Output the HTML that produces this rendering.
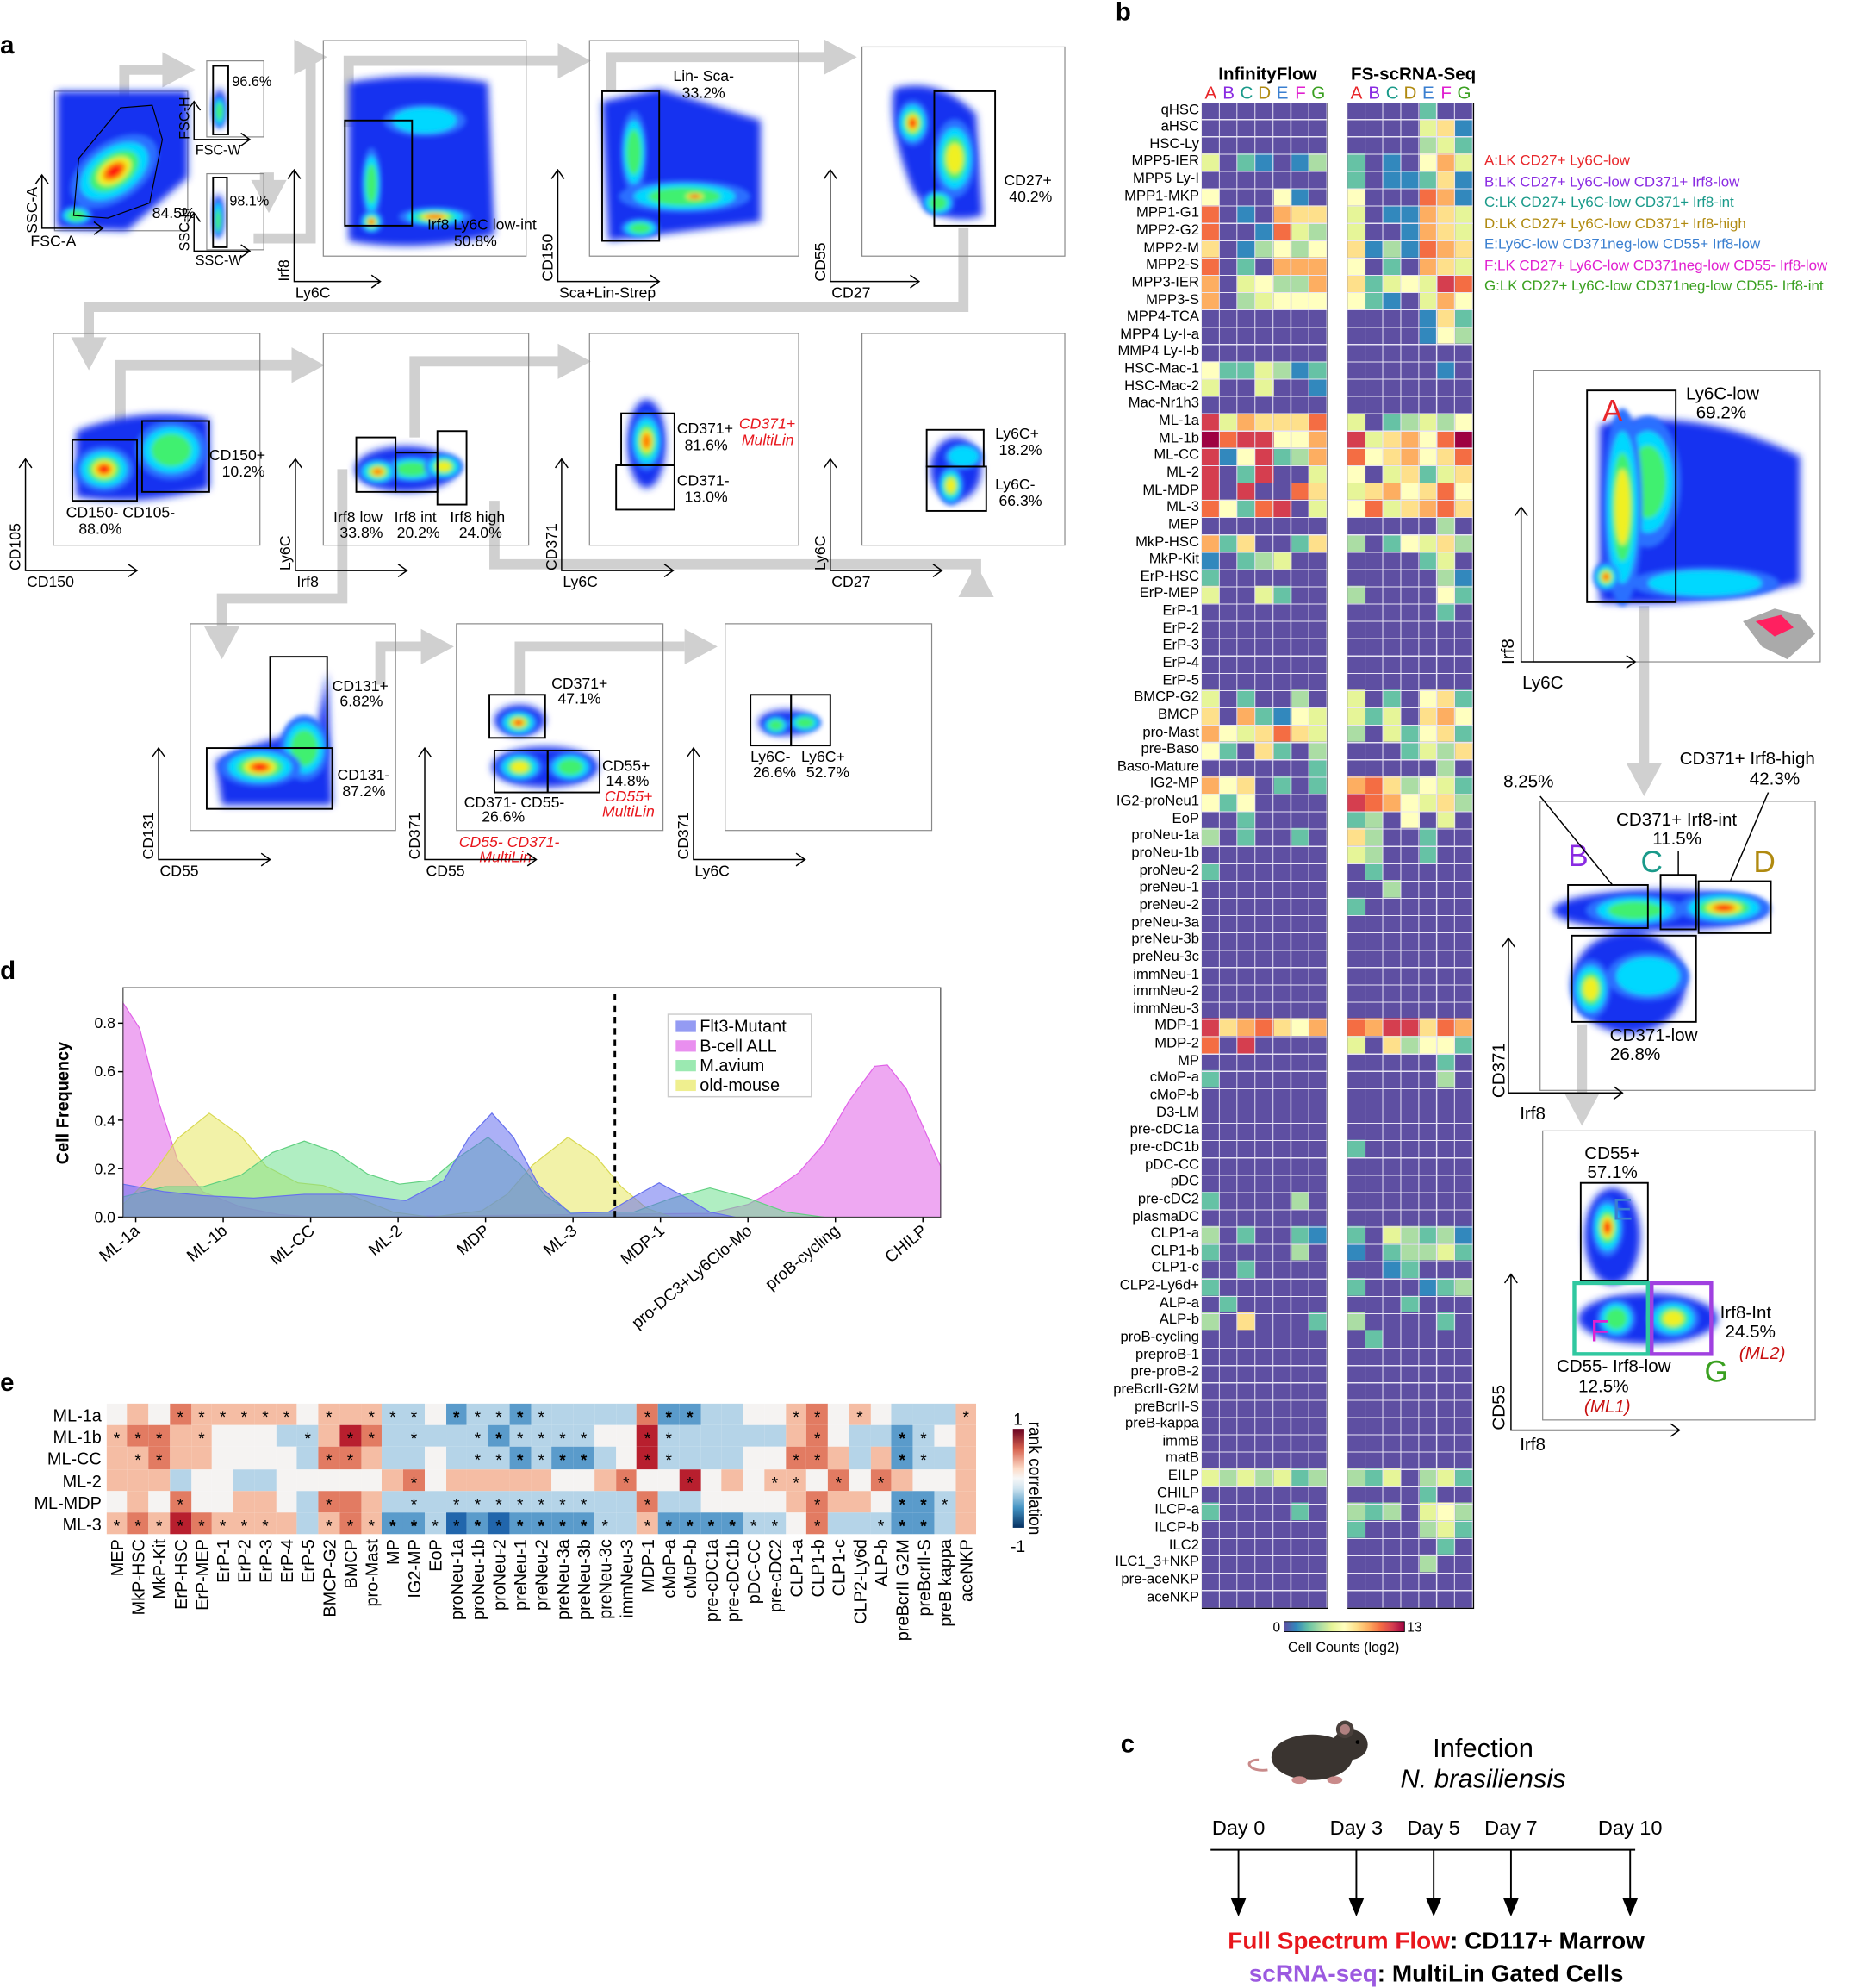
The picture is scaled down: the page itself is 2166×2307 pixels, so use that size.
<!DOCTYPE html>
<html><head><meta charset="utf-8">
<style>
html,body{margin:0;padding:0;background:#fff;}
svg{display:block;font-family:"Liberation Sans",Arial,sans-serif;}
.b{font-weight:bold}
.ax{fill:none;stroke:#000;stroke-width:1}
.fr{fill:none;stroke:#888;stroke-width:.8}
.g{fill:none;stroke:#000;stroke-width:1.3}
.d0{fill:#1530f0}.s1{fill:#2a70ff}.s2{fill:#00d8ff}.s3{fill:#40f070}.s4{fill:#f0f020}.s5{fill:#ff8000}.s6{fill:#ff1010}
.f12{font-size:12px}
.hm{background:#5e4fa2;position:relative;width:99.05px;height:1187.5px;outline:1.6px solid #000;}
.hm p{margin:0;height:13.65px;display:flex}
.hm i{width:14.15px;height:13.65px;flex:none;display:block}
.hm:after{content:"";position:absolute;left:0;top:0;right:0;bottom:0;background:repeating-linear-gradient(90deg,transparent 0 13.4px,#e8e4f4 13.4px 14.15px),repeating-linear-gradient(180deg,transparent 0 12.9px,#e8e4f4 12.9px 13.65px);}
.hm .a{background:#3288bd}.hm .b{background:#66c2a5}.hm .c{background:#abdda4}.hm .d{background:#e6f598}.hm .e{background:#ffffbf}.hm .f{background:#fee08b}.hm .g{background:#fdae61}.hm .h{background:#f46d43}.hm .i{background:#d53e4f}.hm .j{background:#9e0142}
.rl{font:11.3px "Liberation Sans",sans-serif;text-align:right;width:96px}
.rl div{height:13.65px;line-height:13.65px;white-space:nowrap}
.pe{display:grid;grid-template-columns:repeat(41,16.75px);grid-auto-rows:17.2px;font:13px "Liberation Sans",sans-serif}
.pe i{display:block;font-style:normal;text-align:center;line-height:22px}
.pe .a{background:#2166ac}.pe .b{background:#5a9bcb}.pe .c{background:#b5d4e8}.pe .d{background:#f5f3f2}.pe .e{background:#f5bda4}.pe .f{background:#e27b62}.pe .g{background:#b81f2e}
</style></head>
<body>
<svg xmlns="http://www.w3.org/2000/svg" width="2166" height="2307" viewBox="0 0 1472 1568">
<defs>
<filter id="bl" x="-30%" y="-30%" width="160%" height="160%"><feGaussianBlur stdDeviation="3"/></filter>
<filter id="bl2" x="-30%" y="-30%" width="160%" height="160%"><feGaussianBlur stdDeviation="1.8"/></filter>
<linearGradient id="spec" x1="0" x2="1" y1="0" y2="0">
<stop offset="0" stop-color="#5e4fa2"/><stop offset=".1" stop-color="#3288bd"/><stop offset=".2" stop-color="#66c2a5"/><stop offset=".3" stop-color="#abdda4"/><stop offset=".4" stop-color="#e6f598"/><stop offset=".5" stop-color="#ffffbf"/><stop offset=".6" stop-color="#fee08b"/><stop offset=".7" stop-color="#fdae61"/><stop offset=".8" stop-color="#f46d43"/><stop offset=".9" stop-color="#d53e4f"/><stop offset="1" stop-color="#9e0142"/>
</linearGradient>
<linearGradient id="rdbu" x1="0" x2="0" y1="0" y2="1">
<stop offset="0" stop-color="#67001f"/><stop offset=".2" stop-color="#d6604d"/><stop offset=".4" stop-color="#fddbc7"/><stop offset=".5" stop-color="#f7f7f7"/><stop offset=".6" stop-color="#d1e5f0"/><stop offset=".8" stop-color="#4393c3"/><stop offset="1" stop-color="#053061"/>
</linearGradient>
</defs>
<rect width="1472" height="1568" fill="#fff"/>

<!-- gray arrows -->
<g fill="none" stroke="#d0d0d0" stroke-width="8">
<polyline points="98,110 98,55 130,55"/>
<polyline points="205,140 212,140 212,148"/>
<polyline points="200,188 245,188 245,45 235,45"/>
<polyline points="275,100 275,48 440,48"/>
<polyline points="482,72 482,45 650,45"/>
<polyline points="760,180 760,242 70,242 70,268"/>
<polyline points="95,345 95,288 232,288"/>
<polyline points="327,345 327,285 440,285"/>
<polyline points="390,395 390,445 770,445 770,470"/>
<polyline points="270,370 270,472 175,472 175,496"/>
<polyline points="300,540 300,510 335,510"/>
<polyline points="410,548 410,510 540,510"/>
<polyline points="1297,478 1297,605"/>
<polyline points="1248,808 1248,866"/>
</g>
<g fill="#d0d0d0">
<polygon points="154,55 128,41 128,69"/>
<polygon points="212,168 198,142 226,142"/>
<polygon points="258,45 232,31 232,59"/>
<polygon points="466,48 440,34 440,62"/>
<polygon points="676,45 650,31 650,59"/>
<polygon points="70,292 56,266 84,266"/>
<polygon points="256,288 230,274 230,302"/>
<polygon points="466,285 440,271 440,299"/>
<polygon points="770,445 756,471 784,471"/>
<polygon points="175,520 161,494 189,494"/>
<polygon points="358,510 332,496 332,524"/>
<polygon points="566,510 540,496 540,524"/>
<polygon points="1297,628 1283,602 1311,602"/>
<polygon points="1248,888 1234,862 1262,862"/>
</g>

<!-- ============ FLOW PLOTS ============ -->
<!-- P1 -->
<rect class="fr" x="43" y="72" width="105" height="110"/>
<g filter="url(#bl)"><path class="d0" d="M45,180 L45,72 L148,72 L148,140 L100,182 Z"/></g>
<g filter="url(#bl2)">
<g transform="rotate(-35 90 135)"><ellipse class="s1" cx="90" cy="135" rx="39" ry="23"/><ellipse class="s2" cx="90" cy="135" rx="30" ry="18"/><ellipse class="s3" cx="90" cy="135" rx="21.6" ry="13"/><ellipse class="s4" cx="90" cy="135" rx="15" ry="9"/><ellipse class="s5" cx="90" cy="135" rx="10" ry="6"/><ellipse class="s6" cx="90" cy="135" rx="6" ry="3.6"/></g>
<ellipse class="s1" cx="60" cy="170" rx="13" ry="7.8"/><ellipse class="s2" cx="60" cy="170" rx="10" ry="6"/><ellipse class="s3" cx="60" cy="170" rx="7" ry="4.3"/>
</g>
<path d="M58,170 L62,125 L95,85 L120,83 L128,110 L118,160 L85,172 Z" fill="none" stroke="#000" stroke-width=".8"/>
<text class="f12" x="120" y="172">84.5%</text>
<path class="ax" d="M33,138V180H81M28,145L33,138L38,145M74,175L81,180L74,185"/>
<text class="f12" x="24" y="194">FSC-A</text><text class="f12" transform="translate(29,184) rotate(-90)">SSC-A</text>
<!-- P2 -->
<rect class="fr" x="163" y="48" width="45" height="60"/>
<g filter="url(#bl)"><ellipse class="d0" cx="173" cy="85" rx="5" ry="15"/></g>
<g filter="url(#bl2)"><ellipse class="s1" cx="173" cy="88" rx="5.2" ry="13"/><ellipse class="s2" cx="173" cy="88" rx="4" ry="10"/><ellipse class="s3" cx="173" cy="88" rx="2.9" ry="7.2"/></g>
<rect class="g" x="168" y="52" width="12" height="54" stroke-width="1"/>
<text x="183" y="68" font-size="11">96.6%</text>
<path class="ax" d="M153,80V110H197M148,87L153,80L158,87M190,105L197,110L190,115"/>
<text x="154" y="122" font-size="11">FSC-W</text><text font-size="11" transform="translate(149,110) rotate(-90)">FSC-H</text>
<!-- P3 -->
<rect class="fr" x="163" y="137" width="45" height="60"/>
<g filter="url(#bl)"><ellipse class="d0" cx="172" cy="170" rx="4" ry="17"/></g>
<g filter="url(#bl2)"><ellipse class="s1" cx="172" cy="172" rx="3.9" ry="15.6"/><ellipse class="s2" cx="172" cy="172" rx="3" ry="12"/><ellipse class="s3" cx="172" cy="174" rx="2.2" ry="8.6"/></g>
<rect class="g" x="168" y="140" width="11" height="55" stroke-width="1"/>
<text x="181" y="162" font-size="11">98.1%</text>
<path class="ax" d="M153,168V198H197M148,175L153,168L158,175M190,193L197,198L190,203"/>
<text x="154" y="209" font-size="11">SSC-W</text><text font-size="11" transform="translate(149,198) rotate(-90)">SSC-H</text>
<!-- P4 -->
<rect class="fr" x="255" y="32" width="160" height="170"/>
<g filter="url(#bl)"><path class="d0" d="M275,65 Q330,55 385,65 L390,185 Q330,200 275,190 Z"/></g>
<g filter="url(#bl2)">
<ellipse class="s1" cx="335" cy="95" rx="32.5" ry="13"/><ellipse class="s2" cx="335" cy="95" rx="25" ry="10"/>
<ellipse class="s1" cx="293" cy="145" rx="7.8" ry="28.6"/><ellipse class="s2" cx="293" cy="145" rx="6" ry="22"/><ellipse class="s3" cx="293" cy="145" rx="4.3" ry="15.8"/>
<ellipse class="s1" cx="343" cy="171" rx="28.6" ry="7.8"/><ellipse class="s2" cx="343" cy="171" rx="22" ry="6"/><ellipse class="s3" cx="343" cy="171" rx="15.8" ry="4.3"/><ellipse class="s4" cx="343" cy="171" rx="11" ry="3"/><ellipse class="s5" cx="343" cy="171" rx="7.3" ry="2"/>
<circle class="s1" cx="293" cy="175" r="9.1"/><circle class="s2" cx="293" cy="175" r="7"/><circle class="s3" cx="293" cy="175" r="5"/><circle class="s4" cx="293" cy="175" r="3.5"/><circle class="s5" cx="293" cy="175" r="2.3"/><circle class="s6" cx="293" cy="175" r="1.4"/>
</g>
<rect class="g" x="272" y="95" width="53" height="83"/>
<text class="f12" x="337" y="181">Irf8 Ly6C low-int</text><text class="f12" x="375" y="194" text-anchor="middle">50.8%</text>
<path class="ax" d="M232,134V222H300M227,141L232,134L237,141M293,217L300,222L293,227"/>
<text class="f12" x="233" y="235">Ly6C</text><text class="f12" transform="translate(228,222) rotate(-90)">Irf8</text>
<!-- P5 -->
<rect class="fr" x="465" y="32" width="165" height="170"/>
<g filter="url(#bl)"><path class="d0" d="M475,80 L520,70 L600,95 L600,175 L480,190 Z"/></g>
<g filter="url(#bl2)">
<ellipse class="s1" cx="500" cy="120" rx="10.4" ry="32.5"/><ellipse class="s2" cx="500" cy="120" rx="8" ry="25"/><ellipse class="s3" cx="500" cy="120" rx="5.8" ry="18"/>
<ellipse class="s1" cx="540" cy="155" rx="52" ry="13"/><ellipse class="s2" cx="540" cy="155" rx="40" ry="10"/><ellipse class="s3" cx="540" cy="155" rx="28.8" ry="7.2"/>
<ellipse class="s4" cx="548" cy="155" rx="7" ry="2.5"/><ellipse class="s5" cx="548" cy="155" rx="4.6" ry="1.7"/><ellipse class="s6" cx="548" cy="155" rx="2.8" ry="1"/>
<ellipse class="s1" cx="505" cy="180" rx="15.6" ry="7.8"/><ellipse class="s2" cx="505" cy="180" rx="12" ry="6"/><ellipse class="s3" cx="505" cy="180" rx="8.6" ry="4.3"/>
</g>
<rect class="g" x="475" y="72" width="45" height="118"/>
<text class="f12" x="555" y="64" text-anchor="middle">Lin- Sca-</text><text class="f12" x="555" y="77" text-anchor="middle">33.2%</text>
<path class="ax" d="M440,134V222H520M435,141L440,134L445,141M513,217L520,222L513,227"/>
<text class="f12" x="441" y="235">Sca+Lin-Strep</text><text class="f12" transform="translate(436,222) rotate(-90)">CD150</text>
<!-- P6 -->
<rect class="fr" x="680" y="37" width="160" height="165"/>
<g filter="url(#bl)"><path class="d0" d="M705,70 Q740,60 770,90 L775,170 Q740,180 720,150 Q700,100 705,70Z"/></g>
<g filter="url(#bl2)">
<ellipse class="s1" cx="753" cy="125" rx="16.9" ry="31.2"/><ellipse class="s2" cx="753" cy="125" rx="13" ry="24"/><ellipse class="s3" cx="753" cy="125" rx="9.4" ry="17.3"/><ellipse class="s4" cx="753" cy="125" rx="6.5" ry="12"/>
<ellipse class="s1" cx="740" cy="160" rx="13" ry="10.4"/><ellipse class="s2" cx="740" cy="160" rx="10" ry="8"/><ellipse class="s3" cx="740" cy="160" rx="7.2" ry="5.8"/>
<ellipse class="s1" cx="720" cy="97" rx="13" ry="18.2"/><ellipse class="s2" cx="720" cy="97" rx="10" ry="14"/><ellipse class="s3" cx="720" cy="97" rx="7.2" ry="10"/><ellipse class="s4" cx="720" cy="97" rx="5" ry="7"/><ellipse class="s5" cx="720" cy="97" rx="3.3" ry="4.6"/><ellipse class="s6" cx="720" cy="97" rx="2" ry="2.8"/>
</g>
<rect class="g" x="737" y="72" width="48" height="106"/>
<text class="f12" x="792" y="146">CD27+</text><text class="f12" x="796" y="159">40.2%</text>
<path class="ax" d="M655,134V222H725M650,141L655,134L660,141M718,217L725,222L718,227"/>
<text class="f12" x="656" y="235">CD27</text><text class="f12" transform="translate(651,222) rotate(-90)">CD55</text>

<!-- P7 -->
<rect class="fr" x="42" y="263" width="163" height="167"/>
<g filter="url(#bl)"><path class="d0" d="M60,340 Q110,320 165,330 L165,385 Q110,400 60,392Z"/></g>
<g filter="url(#bl2)">
<ellipse class="s1" cx="135" cy="355" rx="28.6" ry="23.4"/><ellipse class="s2" cx="135" cy="355" rx="22" ry="18"/><ellipse class="s3" cx="135" cy="355" rx="15.8" ry="13"/>
<ellipse class="s1" cx="82" cy="370" rx="23.4" ry="18.2"/><ellipse class="s2" cx="82" cy="370" rx="18" ry="14"/><ellipse class="s3" cx="82" cy="370" rx="13" ry="10"/><ellipse class="s4" cx="82" cy="370" rx="9" ry="7"/><ellipse class="s5" cx="82" cy="370" rx="6" ry="4.6"/><ellipse class="s6" cx="82" cy="370" rx="3.6" ry="2.8"/>
</g>
<rect class="g" x="57" y="347" width="51" height="48"/><rect class="g" x="112" y="332" width="53" height="56"/>
<text class="f12" x="165" y="363">CD150+</text><text class="f12" x="175" y="376">10.2%</text>
<text class="f12" x="52" y="408">CD150- CD105-</text><text class="f12" x="62" y="421">88.0%</text>
<path class="ax" d="M20,362V450H108M15,369L20,362L25,369M101,445L108,450L101,455"/>
<text class="f12" x="21" y="463">CD150</text><text class="f12" transform="translate(16,450) rotate(-90)">CD105</text>
<!-- P8 -->
<rect class="fr" x="255" y="263" width="162" height="167"/>
<g filter="url(#bl)"><ellipse class="d0" cx="320" cy="370" rx="40" ry="18"/></g>
<g filter="url(#bl2)">
<ellipse class="s1" cx="325" cy="370" rx="23.4" ry="10.4"/><ellipse class="s2" cx="325" cy="370" rx="18" ry="8"/><ellipse class="s3" cx="325" cy="370" rx="13" ry="5.8"/>
<ellipse class="s1" cx="350" cy="368" rx="15.6" ry="10.4"/><ellipse class="s2" cx="350" cy="368" rx="12" ry="8"/><ellipse class="s3" cx="350" cy="368" rx="8.6" ry="5.8"/><ellipse class="s4" cx="350" cy="368" rx="6" ry="4"/>
<ellipse class="s1" cx="298" cy="372" rx="15.6" ry="10.4"/><ellipse class="s2" cx="298" cy="372" rx="12" ry="8"/><ellipse class="s3" cx="298" cy="372" rx="8.6" ry="5.8"/><ellipse class="s4" cx="298" cy="372" rx="6" ry="4"/><ellipse class="s5" cx="298" cy="372" rx="4" ry="2.6"/>
</g>
<rect class="g" x="281" y="345" width="31" height="43"/><rect class="g" x="312" y="357" width="33" height="31"/><rect class="g" x="345" y="340" width="23" height="58"/>
<text class="f12" x="263" y="412">Irf8 low</text><text class="f12" x="268" y="424">33.8%</text>
<text class="f12" x="311" y="412">Irf8 int</text><text class="f12" x="313" y="424">20.2%</text>
<text class="f12" x="355" y="412">Irf8 high</text><text class="f12" x="362" y="424">24.0%</text>
<path class="ax" d="M233,362V450H321M228,369L233,362L238,369M314,445L321,450L314,455"/>
<text class="f12" x="234" y="463">Irf8</text><text class="f12" transform="translate(229,450) rotate(-90)">Ly6C</text>
<!-- P9 -->
<rect class="fr" x="465" y="263" width="165" height="167"/>
<g filter="url(#bl)"><ellipse class="d0" cx="510" cy="350" rx="15" ry="35"/></g>
<g filter="url(#bl2)"><ellipse class="s1" cx="510" cy="348" rx="13" ry="23.4"/><ellipse class="s2" cx="510" cy="348" rx="10" ry="18"/><ellipse class="s3" cx="510" cy="348" rx="7.2" ry="13"/><ellipse class="s4" cx="510" cy="348" rx="5" ry="9"/><ellipse class="s5" cx="510" cy="348" rx="3.3" ry="6"/></g>
<rect class="g" x="490" y="326" width="42" height="41"/><rect class="g" x="486" y="367" width="46" height="35"/>
<text class="f12" x="534" y="342">CD371+</text><text class="f12" x="540" y="355">81.6%</text>
<text class="f12" x="583" y="338" fill="#e8161c" font-style="italic">CD371+</text><text class="f12" x="585" y="351" fill="#e8161c" font-style="italic">MultiLin</text>
<text class="f12" x="534" y="383">CD371-</text><text class="f12" x="540" y="396">13.0%</text>
<path class="ax" d="M443,362V450H531M438,369L443,362L448,369M524,445L531,450L524,455"/>
<text class="f12" x="444" y="463">Ly6C</text><text class="f12" transform="translate(439,450) rotate(-90)">CD371</text>
<!-- P10 -->
<rect class="fr" x="680" y="263" width="160" height="167"/>
<g filter="url(#bl)"><ellipse class="d0" cx="754" cy="370" rx="20" ry="25"/></g>
<g filter="url(#bl2)">
<ellipse class="s1" cx="760" cy="360" rx="15.6" ry="10.4"/><ellipse class="s2" cx="760" cy="360" rx="12" ry="8"/>
<ellipse class="s1" cx="750" cy="383" rx="10.4" ry="15.6"/><ellipse class="s2" cx="750" cy="383" rx="8" ry="12"/><ellipse class="s3" cx="750" cy="383" rx="5.8" ry="8.6"/><ellipse class="s4" cx="750" cy="383" rx="4" ry="6"/>
</g>
<rect class="g" x="731" y="339" width="45" height="29"/><rect class="g" x="731" y="368" width="47" height="35"/>
<text class="f12" x="785" y="346">Ly6C+</text><text class="f12" x="788" y="359">18.2%</text>
<text class="f12" x="785" y="386">Ly6C-</text><text class="f12" x="788" y="399">66.3%</text>
<path class="ax" d="M655,362V450H743M650,369L655,362L660,369M736,445L743,450L736,455"/>
<text class="f12" x="656" y="463">CD27</text><text class="f12" transform="translate(651,450) rotate(-90)">Ly6C</text>

<!-- P11 -->
<rect class="fr" x="150" y="492" width="162" height="163"/>
<g filter="url(#bl)"><path class="d0" d="M170,600 Q200,585 250,575 L258,530 L262,635 L175,635 Z"/></g>
<g filter="url(#bl2)">
<ellipse class="s1" cx="240" cy="590" rx="19.5" ry="26"/><ellipse class="s2" cx="240" cy="590" rx="15" ry="20"/><ellipse class="s3" cx="240" cy="590" rx="10.8" ry="14.4"/>
<ellipse class="s1" cx="205" cy="605" rx="32.5" ry="15.6"/><ellipse class="s2" cx="205" cy="605" rx="25" ry="12"/><ellipse class="s3" cx="205" cy="605" rx="18" ry="8.6"/><ellipse class="s4" cx="205" cy="605" rx="12.5" ry="6"/><ellipse class="s5" cx="205" cy="605" rx="8.3" ry="4"/><ellipse class="s6" cx="205" cy="605" rx="5" ry="2.4"/>
</g>
<rect class="g" x="213" y="518" width="45" height="72"/><rect class="g" x="163" y="590" width="99" height="48"/>
<text class="f12" x="262" y="545">CD131+</text><text class="f12" x="268" y="557">6.82%</text>
<text class="f12" x="266" y="615">CD131-</text><text class="f12" x="270" y="628">87.2%</text>
<path class="ax" d="M125,590V678H213M120,597L125,590L130,597M206,673L213,678L206,683"/>
<text class="f12" x="126" y="691">CD55</text><text class="f12" transform="translate(121,678) rotate(-90)">CD131</text>
<!-- P12 -->
<rect class="fr" x="360" y="492" width="163" height="163"/>
<g filter="url(#bl)"><ellipse class="d0" cx="410" cy="568" rx="20" ry="12"/><ellipse class="d0" cx="430" cy="605" rx="42" ry="16"/></g>
<g filter="url(#bl2)">
<ellipse class="s1" cx="450" cy="605" rx="18.2" ry="11.7"/><ellipse class="s2" cx="450" cy="605" rx="14" ry="9"/><ellipse class="s3" cx="450" cy="605" rx="10" ry="6.5"/>
<ellipse class="s1" cx="410" cy="605" rx="18.2" ry="11.7"/><ellipse class="s2" cx="410" cy="605" rx="14" ry="9"/><ellipse class="s3" cx="410" cy="605" rx="10" ry="6.5"/><ellipse class="s4" cx="410" cy="605" rx="7" ry="4.5"/>
<ellipse class="s1" cx="409" cy="570" rx="15.6" ry="10.4"/><ellipse class="s2" cx="409" cy="570" rx="12" ry="8"/><ellipse class="s3" cx="409" cy="570" rx="8.6" ry="5.8"/><ellipse class="s4" cx="409" cy="570" rx="6" ry="4"/><ellipse class="s5" cx="409" cy="570" rx="4" ry="2.6"/><ellipse class="s6" cx="409" cy="570" rx="2.4" ry="1.6"/>
</g>
<rect class="g" x="386" y="548" width="44" height="34"/><rect class="g" x="390" y="592" width="42" height="33"/><rect class="g" x="432" y="592" width="41" height="33"/>
<text class="f12" x="435" y="543">CD371+</text><text class="f12" x="440" y="555">47.1%</text>
<text class="f12" x="475" y="608">CD55+</text><text class="f12" x="478" y="620">14.8%</text>
<text class="f12" x="477" y="632" fill="#e8161c" font-style="italic">CD55+</text><text class="f12" x="475" y="644" fill="#e8161c" font-style="italic">MultiLin</text>
<text class="f12" x="366" y="637">CD371- CD55-</text><text class="f12" x="380" y="648">26.6%</text>
<text class="f12" x="362" y="668" fill="#e8161c" font-style="italic">CD55- CD371-</text><text class="f12" x="378" y="680" fill="#e8161c" font-style="italic">MultiLin</text>
<path class="ax" d="M335,590V678H423M330,597L335,590L340,597M416,673L423,678L416,683"/>
<text class="f12" x="336" y="691">CD55</text><text class="f12" transform="translate(331,678) rotate(-90)">CD371</text>
<!-- P13 -->
<rect class="fr" x="572" y="492" width="163" height="163"/>
<g filter="url(#bl)"><ellipse class="d0" cx="620" cy="570" rx="22" ry="10"/></g>
<g filter="url(#bl2)">
<ellipse class="s1" cx="612" cy="572" rx="10.4" ry="7.8"/><ellipse class="s2" cx="612" cy="572" rx="8" ry="6"/><ellipse class="s3" cx="612" cy="572" rx="5.8" ry="4.3"/>
<ellipse class="s1" cx="635" cy="570" rx="13" ry="7.8"/><ellipse class="s2" cx="635" cy="570" rx="10" ry="6"/><ellipse class="s3" cx="635" cy="570" rx="7.2" ry="4.3"/>
</g>
<rect class="g" x="592" y="548" width="32" height="40"/><rect class="g" x="624" y="548" width="31" height="40"/>
<text class="f12" x="592" y="601">Ly6C-</text><text class="f12" x="594" y="613">26.6%</text>
<text class="f12" x="632" y="601">Ly6C+</text><text class="f12" x="636" y="613">52.7%</text>
<path class="ax" d="M547,590V678H635M542,597L547,590L552,597M628,673L635,678L628,683"/>
<text class="f12" x="548" y="691">Ly6C</text><text class="f12" transform="translate(543,678) rotate(-90)">CD371</text>

<!-- R1 -->
<rect class="fr" x="1210" y="292" width="226" height="230"/>
<g filter="url(#bl)"><path class="d0" d="M1262,335 Q1340,320 1420,360 L1420,460 Q1340,480 1262,475 Z"/></g>
<g filter="url(#bl2)">
<ellipse class="s1" cx="1345" cy="460" rx="58.5" ry="13"/><ellipse class="s2" cx="1345" cy="460" rx="45" ry="10"/>
<ellipse class="s1" cx="1300" cy="380" rx="26" ry="52"/><ellipse class="s2" cx="1300" cy="380" rx="20" ry="40"/><ellipse class="s3" cx="1300" cy="380" rx="14.4" ry="28.8"/>
<ellipse class="s1" cx="1280" cy="400" rx="15.6" ry="78"/><ellipse class="s2" cx="1280" cy="400" rx="12" ry="60"/><ellipse class="s3" cx="1280" cy="400" rx="8.6" ry="43"/><ellipse class="s4" cx="1280" cy="400" rx="6" ry="30"/>
<ellipse class="s1" cx="1267" cy="455" rx="10.4" ry="11.7"/><ellipse class="s2" cx="1267" cy="455" rx="8" ry="9"/><ellipse class="s3" cx="1267" cy="455" rx="5.8" ry="6.5"/><ellipse class="s4" cx="1267" cy="455" rx="4" ry="4.5"/><ellipse class="s5" cx="1267" cy="455" rx="2.6" ry="3"/><ellipse class="s6" cx="1267" cy="455" rx="1.6" ry="1.8"/>
</g>
<path d="M1375,490 L1400,480 L1420,485 L1432,500 L1410,520 L1390,510Z" fill="#aaa"/>
<path d="M1385,490 L1405,485 L1415,495 L1400,502Z" fill="#ff2060"/>
<rect class="g" x="1252" y="308" width="70" height="167"/>
<text x="1272" y="332" font-size="24" fill="#e8262a" text-anchor="middle">A</text>
<text x="1330" y="315" font-size="14">Ly6C-low</text><text x="1338" y="330" font-size="14">69.2%</text>
<path class="ax" d="M1200,400V522H1290M1195,407L1200,400L1205,407M1283,517L1290,522L1283,527"/>
<text x="1201" y="543" font-size="14">Ly6C</text><text font-size="14" transform="translate(1194,524) rotate(-90)">Irf8</text>
<!-- R2 -->
<rect class="fr" x="1215" y="632" width="217" height="228"/>
<g filter="url(#bl)"><ellipse class="d0" cx="1310" cy="718" rx="85" ry="16"/><ellipse class="d0" cx="1285" cy="775" rx="45" ry="40"/></g>
<g filter="url(#bl2)">
<ellipse class="s1" cx="1300" cy="770" rx="32.5" ry="19.5"/><ellipse class="s2" cx="1300" cy="770" rx="25" ry="15"/>
<ellipse class="s1" cx="1255" cy="780" rx="15.6" ry="23.4"/><ellipse class="s2" cx="1255" cy="780" rx="12" ry="18"/><ellipse class="s3" cx="1255" cy="780" rx="8.6" ry="13"/><ellipse class="s4" cx="1255" cy="780" rx="6" ry="9"/>
<ellipse class="s1" cx="1290" cy="718" rx="39" ry="13"/><ellipse class="s2" cx="1290" cy="718" rx="30" ry="10"/><ellipse class="s3" cx="1290" cy="718" rx="21.6" ry="7.2"/>
<ellipse class="s1" cx="1360" cy="716" rx="36.4" ry="13"/><ellipse class="s2" cx="1360" cy="716" rx="28" ry="10"/><ellipse class="s3" cx="1360" cy="716" rx="20" ry="7.2"/><ellipse class="s4" cx="1360" cy="716" rx="14" ry="5"/><ellipse class="s5" cx="1360" cy="716" rx="9.2" ry="3.3"/><ellipse class="s6" cx="1360" cy="716" rx="5.6" ry="2"/>
</g>
<rect class="g" x="1237" y="698" width="63" height="34"/><rect class="g" x="1310" y="690" width="28" height="43"/><rect class="g" x="1340" y="695" width="57" height="41"/><rect class="g" x="1240" y="738" width="98" height="68"/>
<text x="1245" y="683" font-size="24" fill="#8a2be2" text-anchor="middle">B</text>
<text x="1303" y="688" font-size="24" fill="#1a9a8a" text-anchor="middle">C</text>
<text x="1392" y="688" font-size="24" fill="#b08a10" text-anchor="middle">D</text>
<text x="1186" y="621" font-size="14">8.25%</text>
<text x="1325" y="603" font-size="14">CD371+ Irf8-high</text><text x="1400" y="619" font-size="14" text-anchor="middle">42.3%</text>
<text x="1275" y="651" font-size="14">CD371+ Irf8-int</text><text x="1323" y="666" font-size="14" text-anchor="middle">11.5%</text>
<line x1="1215" y1="628" x2="1272" y2="698" stroke="#000"/><line x1="1324" y1="671" x2="1324" y2="690" stroke="#000"/><line x1="1395" y1="625" x2="1365" y2="695" stroke="#000"/>
<text x="1270" y="821" font-size="14">CD371-low</text><text x="1290" y="836" font-size="14" text-anchor="middle">26.8%</text>
<path class="ax" d="M1190,740V862H1280M1185,747L1190,740L1195,747M1273,857L1280,862L1273,867"/>
<text x="1199" y="883" font-size="14">Irf8</text><text font-size="14" transform="translate(1187,866) rotate(-90)">CD371</text>
<!-- R3 -->
<rect class="fr" x="1217" y="892" width="215" height="228"/>
<g filter="url(#bl)"><ellipse class="d0" cx="1272" cy="975" rx="22" ry="38"/><ellipse class="d0" cx="1300" cy="1040" rx="55" ry="20"/></g>
<g filter="url(#bl2)">
<ellipse class="s1" cx="1275" cy="1040" rx="15.6" ry="15.6"/><ellipse class="s2" cx="1275" cy="1040" rx="12" ry="12"/><ellipse class="s3" cx="1275" cy="1040" rx="8.6" ry="8.6"/>
<ellipse class="s1" cx="1320" cy="1040" rx="20.8" ry="15.6"/><ellipse class="s2" cx="1320" cy="1040" rx="16" ry="12"/><ellipse class="s3" cx="1320" cy="1040" rx="11.5" ry="8.6"/><ellipse class="s4" cx="1320" cy="1040" rx="8" ry="6"/>
<ellipse class="s1" cx="1268" cy="968" rx="13" ry="23.4"/><ellipse class="s2" cx="1268" cy="968" rx="10" ry="18"/><ellipse class="s3" cx="1268" cy="968" rx="7.2" ry="13"/><ellipse class="s4" cx="1268" cy="968" rx="5" ry="9"/><ellipse class="s5" cx="1268" cy="968" rx="3.3" ry="6"/><ellipse class="s6" cx="1268" cy="968" rx="2" ry="3.6"/>
</g>
<rect class="g" x="1247" y="933" width="53" height="77"/>
<rect x="1242" y="1012" width="58" height="56" fill="none" stroke="#30c8a0" stroke-width="3"/>
<rect x="1303" y="1012" width="47" height="56" fill="none" stroke="#a040e0" stroke-width="3"/>
<text x="1280" y="962" font-size="24" fill="#3a7fd0" text-anchor="middle">E</text>
<text x="1262" y="1058" font-size="24" fill="#e020d0" text-anchor="middle">F</text>
<text x="1354" y="1090" font-size="24" fill="#3aa020" text-anchor="middle">G</text>
<text x="1272" y="914" font-size="14" text-anchor="middle">CD55+</text><text x="1272" y="929" font-size="14" text-anchor="middle">57.1%</text>
<text x="1357" y="1040" font-size="14">Irf8-Int</text><text x="1361" y="1055" font-size="14">24.5%</text><text x="1372" y="1072" font-size="14" fill="#c81010" font-style="italic">(ML2)</text>
<text x="1228" y="1082" font-size="14">CD55- Irf8-low</text><text x="1265" y="1098" font-size="14" text-anchor="middle">12.5%</text><text x="1268" y="1114" font-size="14" fill="#c81010" font-style="italic" text-anchor="middle">(ML1)</text>
<path class="ax" d="M1192,1005V1128H1325M1187,1012L1192,1005L1197,1012M1318,1123L1325,1128L1318,1133"/>
<text x="1199" y="1144" font-size="14">Irf8</text><text font-size="14" transform="translate(1187,1128) rotate(-90)">CD55</text>

<!-- panel letters -->
<text x="0" y="42" font-size="20" class="b">a</text>
<text x="880" y="16" font-size="20" class="b">b</text>
<text x="0" y="772" font-size="20" class="b">d</text>
<text x="0" y="1097" font-size="20" class="b">e</text>
<text x="884" y="1382" font-size="20" class="b">c</text>

<!-- ============ PANEL B ============ -->
<text x="1000" y="63" font-size="14" class="b" text-anchor="middle">InfinityFlow</text>
<text x="1115" y="63" font-size="14" class="b" text-anchor="middle">FS-scRNA-Seq</text>
<g font-size="14" text-anchor="middle">
<text x="955.1" y="78" fill="#e8262a">A</text><text x="969.2" y="78" fill="#8a2be2">B</text><text x="983.4" y="78" fill="#1a9a8a">C</text><text x="997.5" y="78" fill="#b08a10">D</text><text x="1011.7" y="78" fill="#3a7fd0">E</text><text x="1025.9" y="78" fill="#e020d0">F</text><text x="1040" y="78" fill="#3aa020">G</text>
<text x="1070.1" y="78" fill="#e8262a">A</text><text x="1084.2" y="78" fill="#8a2be2">B</text><text x="1098.4" y="78" fill="#1a9a8a">C</text><text x="1112.5" y="78" fill="#b08a10">D</text><text x="1126.7" y="78" fill="#3a7fd0">E</text><text x="1140.9" y="78" fill="#e020d0">F</text><text x="1155" y="78" fill="#3aa020">G</text>
</g>
<foreignObject x="850" y="80.5" width="96" height="1190">
<div class="rl"><div>qHSC</div><div>aHSC</div><div>HSC-Ly</div><div>MPP5-IER</div><div>MPP5 Ly-I</div><div>MPP1-MKP</div><div>MPP1-G1</div><div>MPP2-G2</div><div>MPP2-M</div><div>MPP2-S</div><div>MPP3-IER</div><div>MPP3-S</div><div>MPP4-TCA</div><div>MPP4 Ly-I-a</div><div>MMP4 Ly-I-b</div><div>HSC-Mac-1</div><div>HSC-Mac-2</div><div>Mac-Nr1h3</div><div>ML-1a</div><div>ML-1b</div><div>ML-CC</div><div>ML-2</div><div>ML-MDP</div><div>ML-3</div><div>MEP</div><div>MkP-HSC</div><div>MkP-Kit</div><div>ErP-HSC</div><div>ErP-MEP</div><div>ErP-1</div><div>ErP-2</div><div>ErP-3</div><div>ErP-4</div><div>ErP-5</div><div>BMCP-G2</div><div>BMCP</div><div>pro-Mast</div><div>pre-Baso</div><div>Baso-Mature</div><div>IG2-MP</div><div>IG2-proNeu1</div><div>EoP</div><div>proNeu-1a</div><div>proNeu-1b</div><div>proNeu-2</div><div>preNeu-1</div><div>preNeu-2</div><div>preNeu-3a</div><div>preNeu-3b</div><div>preNeu-3c</div><div>immNeu-1</div><div>immNeu-2</div><div>immNeu-3</div><div>MDP-1</div><div>MDP-2</div><div>MP</div><div>cMoP-a</div><div>cMoP-b</div><div>D3-LM</div><div>pre-cDC1a</div><div>pre-cDC1b</div><div>pDC-CC</div><div>pDC</div><div>pre-cDC2</div><div>plasmaDC</div><div>CLP1-a</div><div>CLP1-b</div><div>CLP1-c</div><div>CLP2-Ly6d+</div><div>ALP-a</div><div>ALP-b</div><div>proB-cycling</div><div>preproB-1</div><div>pre-proB-2</div><div>preBcrII-G2M</div><div>preBcrII-S</div><div>preB-kappa</div><div>immB</div><div>matB</div><div>EILP</div><div>CHILP</div><div>ILCP-a</div><div>ILCP-b</div><div>ILC2</div><div>ILC1_3+NKP</div><div>pre-aceNKP</div><div>aceNKP</div></div>
</foreignObject>
<foreignObject x="948" y="80.5" width="100" height="1188">
<div class="hm">
<p></p><p></p><p></p>
<p><i class="d"></i><i></i><i class="b"></i><i class="a"></i><i></i><i class="a"></i><i class="c"></i></p>
<p></p>
<p><i class="e"></i><i></i><i></i><i></i><i class="e"></i><i class="a"></i><i></i></p>
<p><i class="h"></i><i></i><i class="a"></i><i></i><i class="g"></i><i class="f"></i><i class="f"></i></p>
<p><i class="h"></i><i></i><i></i><i class="a"></i><i class="h"></i><i class="d"></i><i class="c"></i></p>
<p><i class="f"></i><i></i><i class="a"></i><i class="c"></i><i class="e"></i><i class="c"></i><i class="e"></i></p>
<p><i class="h"></i><i></i><i class="b"></i><i></i><i class="g"></i><i class="g"></i><i class="g"></i></p>
<p><i class="g"></i><i></i><i class="d"></i><i class="e"></i><i class="c"></i><i class="c"></i><i class="g"></i></p>
<p><i class="g"></i><i></i><i class="c"></i><i class="d"></i><i class="e"></i><i class="e"></i><i class="e"></i></p>
<p></p><p></p><p></p>
<p><i class="e"></i><i class="b"></i><i class="b"></i><i class="d"></i><i class="c"></i><i class="a"></i><i class="b"></i></p>
<p><i class="d"></i><i></i><i></i><i class="d"></i><i></i><i></i><i class="a"></i></p>
<p></p>
<p><i class="i"></i><i class="d"></i><i class="g"></i><i class="f"></i><i class="f"></i><i class="f"></i><i class="h"></i></p>
<p><i class="j"></i><i class="h"></i><i class="i"></i><i class="i"></i><i class="e"></i><i class="e"></i><i class="g"></i></p>
<p><i class="i"></i><i class="a"></i><i class="e"></i><i class="i"></i><i class="b"></i><i class="c"></i><i class="g"></i></p>
<p><i class="i"></i><i></i><i class="b"></i><i class="i"></i><i></i><i></i><i class="d"></i></p>
<p><i class="i"></i><i></i><i class="i"></i><i></i><i></i><i class="h"></i><i class="f"></i></p>
<p><i class="h"></i><i class="e"></i><i class="b"></i><i class="h"></i><i class="i"></i><i></i><i class="d"></i></p>
<p></p>
<p><i class="g"></i><i class="b"></i><i class="f"></i><i></i><i></i><i class="b"></i><i class="f"></i></p>
<p><i class="a"></i><i></i><i class="b"></i><i class="c"></i><i class="d"></i><i></i><i></i></p>
<p><i class="b"></i></p>
<p><i class="d"></i><i></i><i></i><i class="d"></i><i class="b"></i><i></i><i></i></p>
<p></p><p></p><p></p><p></p><p></p>
<p><i class="d"></i><i></i><i class="b"></i><i></i><i></i><i class="c"></i><i></i></p>
<p><i class="f"></i><i></i><i class="g"></i><i class="b"></i><i class="a"></i><i class="e"></i><i class="d"></i></p>
<p><i class="g"></i><i class="e"></i><i class="d"></i><i class="f"></i><i class="h"></i><i class="f"></i><i class="d"></i></p>
<p><i class="e"></i><i class="b"></i><i></i><i class="f"></i><i class="b"></i><i></i><i class="c"></i></p>
<p><i></i><i></i><i></i><i></i><i></i><i></i><i class="b"></i></p>
<p><i class="g"></i><i class="e"></i><i class="f"></i><i></i><i class="b"></i><i></i><i class="b"></i></p>
<p><i class="e"></i><i class="b"></i><i class="e"></i></p>
<p><i></i><i></i><i class="b"></i></p>
<p><i class="c"></i><i></i><i class="b"></i><i></i><i></i><i class="b"></i></p>
<p></p>
<p><i class="b"></i></p>
<p></p><p></p><p></p><p></p><p></p><p></p><p></p><p></p>
<p><i class="i"></i><i class="f"></i><i class="g"></i><i class="h"></i><i class="f"></i><i class="e"></i><i class="g"></i></p>
<p><i class="h"></i><i></i><i class="i"></i></p>
<p></p>
<p><i class="b"></i></p>
<p></p><p></p><p></p><p></p><p></p><p></p>
<p><i class="b"></i><i></i><i></i><i></i><i></i><i class="c"></i></p>
<p></p>
<p><i class="c"></i><i></i><i class="b"></i><i></i><i></i><i class="b"></i><i class="a"></i></p>
<p><i class="b"></i><i></i><i></i><i></i><i></i><i class="c"></i></p>
<p><i></i><i></i><i class="b"></i></p>
<p><i class="b"></i></p>
<p><i></i><i class="b"></i></p>
<p><i class="c"></i><i></i><i class="f"></i><i></i><i></i><i></i><i class="b"></i></p>
<p></p><p></p><p></p><p></p><p></p><p></p><p></p><p></p>
<p><i class="d"></i><i class="c"></i><i class="d"></i><i class="c"></i><i class="d"></i><i class="b"></i><i class="c"></i></p>
<p></p>
<p><i class="b"></i><i></i><i></i><i></i><i></i><i class="b"></i></p>
<p></p><p></p><p></p><p></p><p></p>
</div>
</foreignObject>
<foreignObject x="1063" y="80.5" width="100" height="1188">
<div class="hm">
<p><i></i><i></i><i></i><i></i><i class="b"></i></p>
<p><i></i><i></i><i></i><i></i><i class="d"></i><i class="f"></i><i class="a"></i></p>
<p><i></i><i></i><i></i><i></i><i class="c"></i><i class="d"></i><i class="b"></i></p>
<p><i class="b"></i><i></i><i class="a"></i><i></i><i class="e"></i><i class="g"></i><i class="d"></i></p>
<p><i class="b"></i><i></i><i class="a"></i><i class="a"></i><i class="b"></i><i class="f"></i><i class="a"></i></p>
<p><i class="e"></i><i></i><i></i><i></i><i class="h"></i><i class="g"></i><i class="a"></i></p>
<p><i class="d"></i><i></i><i class="a"></i><i class="a"></i><i class="g"></i><i class="f"></i><i class="d"></i></p>
<p><i class="d"></i><i></i><i></i><i class="a"></i><i class="g"></i><i class="f"></i><i class="d"></i></p>
<p><i class="f"></i><i class="a"></i><i class="c"></i><i class="a"></i><i class="h"></i><i class="g"></i><i class="f"></i></p>
<p><i class="e"></i><i></i><i class="b"></i><i></i><i class="g"></i><i class="f"></i><i class="d"></i></p>
<p><i class="f"></i><i class="b"></i><i class="d"></i><i class="e"></i><i class="d"></i><i class="i"></i><i class="h"></i></p>
<p><i class="e"></i><i class="b"></i><i class="a"></i><i></i><i class="d"></i><i class="g"></i><i class="e"></i></p>
<p><i></i><i></i><i></i><i></i><i class="a"></i><i class="f"></i><i class="b"></i></p>
<p><i></i><i></i><i></i><i></i><i class="a"></i><i class="e"></i><i class="c"></i></p>
<p></p>
<p><i></i><i></i><i></i><i></i><i></i><i class="a"></i></p>
<p></p><p></p>
<p><i class="d"></i><i></i><i class="b"></i><i class="c"></i><i class="d"></i><i class="c"></i><i class="e"></i></p>
<p><i class="i"></i><i class="d"></i><i class="f"></i><i class="g"></i><i class="e"></i><i class="h"></i><i class="j"></i></p>
<p><i class="h"></i><i class="e"></i><i class="f"></i><i class="g"></i><i class="e"></i><i class="f"></i><i class="h"></i></p>
<p><i class="e"></i><i></i><i class="d"></i><i class="f"></i><i class="b"></i><i class="d"></i><i class="f"></i></p>
<p><i class="d"></i><i class="f"></i><i class="g"></i><i class="e"></i><i class="f"></i><i class="h"></i><i class="e"></i></p>
<p><i class="e"></i><i class="h"></i><i class="d"></i><i class="f"></i><i class="g"></i><i class="h"></i><i class="f"></i></p>
<p><i></i><i></i><i></i><i></i><i></i><i class="c"></i></p>
<p><i class="c"></i><i></i><i class="b"></i><i class="e"></i><i class="d"></i><i class="f"></i><i class="c"></i></p>
<p><i></i><i></i><i></i><i></i><i class="b"></i><i class="d"></i></p>
<p><i></i><i></i><i></i><i></i><i></i><i class="c"></i><i class="a"></i></p>
<p><i class="c"></i><i></i><i></i><i></i><i></i><i class="e"></i><i class="b"></i></p>
<p><i></i><i></i><i></i><i></i><i></i><i class="b"></i></p>
<p></p><p></p><p></p><p></p>
<p><i class="d"></i><i></i><i class="b"></i><i></i><i class="e"></i><i class="f"></i><i class="b"></i></p>
<p><i class="d"></i><i class="b"></i><i class="d"></i><i></i><i class="f"></i><i class="g"></i><i class="e"></i></p>
<p><i class="c"></i><i></i><i class="d"></i><i class="b"></i><i class="e"></i><i class="f"></i><i class="b"></i></p>
<p><i></i><i></i><i></i><i class="b"></i><i class="d"></i><i class="c"></i><i class="f"></i></p>
<p><i></i><i></i><i></i><i></i><i></i><i class="c"></i></p>
<p><i class="g"></i><i class="h"></i><i class="f"></i><i class="c"></i><i class="e"></i><i class="d"></i><i class="b"></i></p>
<p><i class="i"></i><i class="h"></i><i class="g"></i><i class="e"></i><i class="d"></i><i class="f"></i><i class="c"></i></p>
<p><i class="b"></i><i class="c"></i><i></i><i class="e"></i><i></i><i class="d"></i></p>
<p><i class="f"></i><i class="c"></i><i></i><i></i><i class="b"></i></p>
<p><i class="d"></i><i class="c"></i><i></i><i></i><i class="b"></i></p>
<p><i></i><i class="b"></i></p>
<p><i></i><i></i><i class="c"></i></p>
<p><i class="b"></i></p>
<p></p><p></p><p></p><p></p><p></p><p></p>
<p><i class="h"></i><i class="g"></i><i class="i"></i><i class="i"></i><i class="f"></i><i class="h"></i><i class="g"></i></p>
<p><i class="d"></i><i></i><i class="f"></i><i class="c"></i><i class="e"></i><i class="e"></i><i class="b"></i></p>
<p><i></i><i></i><i></i><i></i><i></i><i class="b"></i></p>
<p><i></i><i></i><i></i><i></i><i></i><i class="c"></i></p>
<p></p><p></p><p></p>
<p><i class="b"></i></p>
<p></p><p></p><p></p><p></p>
<p><i class="b"></i><i></i><i class="d"></i><i class="c"></i><i class="b"></i><i class="c"></i><i class="a"></i></p>
<p><i class="a"></i><i></i><i class="b"></i><i class="c"></i><i class="c"></i><i class="d"></i><i class="b"></i></p>
<p><i></i><i></i><i class="a"></i><i class="b"></i></p>
<p><i class="b"></i><i></i><i></i><i></i><i class="a"></i><i class="b"></i><i class="c"></i></p>
<p><i></i><i></i><i></i><i class="b"></i></p>
<p><i class="c"></i><i></i><i></i><i></i><i></i><i class="b"></i></p>
<p><i></i><i class="b"></i></p>
<p></p><p></p><p></p><p></p><p></p><p></p><p></p>
<p><i class="c"></i><i class="b"></i><i class="d"></i><i></i><i class="c"></i><i class="d"></i><i class="b"></i></p>
<p><i></i><i></i><i></i><i></i><i class="b"></i></p>
<p><i class="c"></i><i class="b"></i><i class="c"></i><i></i><i class="d"></i><i class="e"></i><i class="c"></i></p>
<p><i class="b"></i><i></i><i></i><i></i><i class="c"></i><i class="d"></i><i class="b"></i></p>
<p><i></i><i></i><i></i><i></i><i></i><i class="b"></i></p>
<p><i></i><i></i><i></i><i></i><i class="c"></i></p>
<p></p><p></p>
</div>
</foreignObject>

<!-- legend b -->
<g font-size="11.5">
<text x="1171" y="130" fill="#e8262a">A:LK CD27+ Ly6C-low</text>
<text x="1171" y="147" fill="#8a2be2">B:LK CD27+ Ly6C-low CD371+ Irf8-low</text>
<text x="1171" y="163" fill="#1a9a8a">C:LK CD27+ Ly6C-low CD371+ Irf8-int</text>
<text x="1171" y="180" fill="#b08a10">D:LK CD27+ Ly6C-low CD371+ Irf8-high</text>
<text x="1171" y="196" fill="#3a7fd0">E:Ly6C-low CD371neg-low CD55+ Irf8-low</text>
<text x="1171" y="213" fill="#e020d0">F:LK CD27+ Ly6C-low CD371neg-low CD55- Irf8-low</text>
<text x="1171" y="229" fill="#3aa020">G:LK CD27+ Ly6C-low CD371neg-low CD55- Irf8-int</text>
</g>
<rect x="1013" y="1279" width="95" height="8" fill="url(#spec)" stroke="#000" stroke-width=".6"/>
<text x="1010" y="1287" font-size="10.5" text-anchor="end">0</text>
<text x="1110" y="1287" font-size="10.5">13</text>
<text x="1060" y="1303" font-size="11" text-anchor="middle">Cell Counts (log2)</text>

<!-- ============ PANEL D ============ -->
<path fill="#e060e8" fill-opacity=".55" stroke="#e060e8" stroke-width=".8" d="M97,960 L97,791 L110,811 L125,869 L140,915 L160,940 L190,952 L220,958 L250,960 L560,957 L590,950 L610,939 L630,925 L650,902 L670,868 L690,841 L700,840 L715,859 L730,893 L742,920 L742,960 Z"/>
<path fill="#e8e860" fill-opacity=".55" stroke="#d8d850" stroke-width=".8" d="M97,960 L97,950 L120,927 L140,898 L165,878 L190,896 L210,920 L235,933 L255,935 L280,944 L310,956 L340,960 L380,955 L400,942 L420,919 L448,897 L470,912 L490,936 L510,953 L530,960 Z"/>
<path fill="#70e090" fill-opacity=".55" stroke="#60d080" stroke-width=".8" d="M97,960 L97,944 L130,936 L160,936 L190,927 L215,909 L240,900 L265,909 L290,926 L315,934 L340,931 L360,914 L385,897 L410,918 L430,943 L450,956 L500,956 L530,945 L560,937 L590,945 L620,956 L650,960 Z"/>
<path fill="#6670ee" fill-opacity=".55" stroke="#6670ee" stroke-width=".8" d="M97,960 L97,934 L130,940 L160,943 L200,945 L240,942 L280,942 L320,947 L350,931 L370,897 L388,878 L405,897 L425,935 L450,957 L480,956 L500,944 L520,933 L540,944 L560,956 L580,960 Z"/>
<rect x="97" y="779" width="645" height="181" fill="none" stroke="#444" stroke-width=".8"/>
<line x1="485" y1="784" x2="485" y2="960" stroke="#000" stroke-width="2" stroke-dasharray="5,4"/>
<g stroke="#000"><line x1="93" y1="960" x2="97" y2="960"/><line x1="93" y1="921.75" x2="97" y2="921.75"/><line x1="93" y1="883.5" x2="97" y2="883.5"/><line x1="93" y1="845.25" x2="97" y2="845.25"/><line x1="93" y1="807" x2="97" y2="807"/></g>
<g font-size="12" text-anchor="end"><text x="91" y="964">0.0</text><text x="91" y="926">0.2</text><text x="91" y="888">0.4</text><text x="91" y="849">0.6</text><text x="91" y="811">0.8</text></g>
<text transform="translate(54,870) rotate(-90)" font-size="13.5" text-anchor="middle" class="b">Cell Frequency</text>
<g stroke="#000"><line x1="107" y1="960" x2="107" y2="964"/><line x1="176" y1="960" x2="176" y2="964"/><line x1="245" y1="960" x2="245" y2="964"/><line x1="314" y1="960" x2="314" y2="964"/><line x1="383" y1="960" x2="383" y2="964"/><line x1="452" y1="960" x2="452" y2="964"/><line x1="521" y1="960" x2="521" y2="964"/><line x1="590" y1="960" x2="590" y2="964"/><line x1="659" y1="960" x2="659" y2="964"/><line x1="728" y1="960" x2="728" y2="964"/></g>
<g font-size="13" text-anchor="end">
<text transform="translate(111,972) rotate(-40)">ML-1a</text>
<text transform="translate(180,972) rotate(-40)">ML-1b</text>
<text transform="translate(249,972) rotate(-40)">ML-CC</text>
<text transform="translate(318,972) rotate(-40)">ML-2</text>
<text transform="translate(387,972) rotate(-40)">MDP</text>
<text transform="translate(456,972) rotate(-40)">ML-3</text>
<text transform="translate(525,972) rotate(-40)">MDP-1</text>
<text transform="translate(594,972) rotate(-40)">pro-DC3+Ly6Clo-Mo</text>
<text transform="translate(663,972) rotate(-40)">proB-cycling</text>
<text transform="translate(732,972) rotate(-40)">CHILP</text>
</g>
<rect x="527" y="800" width="113" height="65" fill="#fff" stroke="#ccc"/>
<rect x="533" y="805" width="16" height="9" fill="#6670ee" fill-opacity=".7"/><text x="552" y="814" font-size="13.5">Flt3-Mutant</text>
<rect x="533" y="820.5" width="16" height="9" fill="#e060e8" fill-opacity=".7"/><text x="552" y="829.5" font-size="13.5">B-cell ALL</text>
<rect x="533" y="836" width="16" height="9" fill="#70e090" fill-opacity=".7"/><text x="552" y="845" font-size="13.5">M.avium</text>
<rect x="533" y="851.5" width="16" height="9" fill="#e8e860" fill-opacity=".7"/><text x="552" y="860.5" font-size="13.5">old-mouse</text>

<!-- ============ PANEL E ============ -->
<foreignObject x="83.6" y="1107" width="690" height="104">
<div class="pe">
<i class="d"></i><i class="e"></i><i class="d"></i><i class="f">*</i><i class="e">*</i><i class="e">*</i><i class="e">*</i><i class="e">*</i><i class="e">*</i><i class="d"></i><i class="e">*</i><i class="e"></i><i class="e">*</i><i class="c">*</i><i class="c">*</i><i class="d"></i><i class="b">*</i><i class="c">*</i><i class="c">*</i><i class="b">*</i><i class="c">*</i><i class="c"></i><i class="c"></i><i class="c"></i><i class="c"></i><i class="f">*</i><i class="b">*</i><i class="b">*</i><i class="c"></i><i class="c"></i><i class="d"></i><i class="d"></i><i class="e">*</i><i class="f">*</i><i class="d"></i><i class="e">*</i><i class="d"></i><i class="c"></i><i class="c"></i><i class="c"></i><i class="e">*</i>
<i class="e">*</i><i class="f">*</i><i class="f">*</i><i class="e"></i><i class="e">*</i><i class="d"></i><i class="d"></i><i class="d"></i><i class="c"></i><i class="c">*</i><i class="e"></i><i class="g">*</i><i class="f">*</i><i class="c"></i><i class="c">*</i><i class="c"></i><i class="c"></i><i class="c">*</i><i class="b">*</i><i class="c">*</i><i class="c">*</i><i class="c">*</i><i class="c">*</i><i class="d"></i><i class="d"></i><i class="g">*</i><i class="c">*</i><i class="c"></i><i class="c"></i><i class="c"></i><i class="c"></i><i class="c"></i><i class="e"></i><i class="f">*</i><i class="d"></i><i class="c"></i><i class="c"></i><i class="b">*</i><i class="c">*</i><i class="d"></i><i class="e"></i>
<i class="e"></i><i class="e">*</i><i class="f">*</i><i class="e"></i><i class="e"></i><i class="d"></i><i class="d"></i><i class="d"></i><i class="d"></i><i class="c"></i><i class="f">*</i><i class="f">*</i><i class="e"></i><i class="c"></i><i class="c"></i><i class="d"></i><i class="c"></i><i class="c">*</i><i class="c">*</i><i class="b">*</i><i class="c">*</i><i class="b">*</i><i class="b">*</i><i class="c"></i><i class="d"></i><i class="g">*</i><i class="c">*</i><i class="c"></i><i class="c"></i><i class="c"></i><i class="d"></i><i class="d"></i><i class="f">*</i><i class="f">*</i><i class="e"></i><i class="c"></i><i class="e"></i><i class="b">*</i><i class="c">*</i><i class="c"></i><i class="e"></i>
<i class="e"></i><i class="e"></i><i class="e"></i><i class="c"></i><i class="d"></i><i class="d"></i><i class="c"></i><i class="c"></i><i class="d"></i><i class="d"></i><i class="d"></i><i class="d"></i><i class="d"></i><i class="e"></i><i class="f">*</i><i class="d"></i><i class="e"></i><i class="e"></i><i class="e"></i><i class="e"></i><i class="e"></i><i class="d"></i><i class="d"></i><i class="e"></i><i class="f">*</i><i class="d"></i><i class="d"></i><i class="g">*</i><i class="d"></i><i class="e"></i><i class="d"></i><i class="e">*</i><i class="e">*</i><i class="d"></i><i class="f">*</i><i class="d"></i><i class="f">*</i><i class="e"></i><i class="d"></i><i class="d"></i><i class="e"></i>
<i class="d"></i><i class="e"></i><i class="d"></i><i class="f">*</i><i class="d"></i><i class="d"></i><i class="e"></i><i class="e"></i><i class="d"></i><i class="c"></i><i class="f">*</i><i class="f"></i><i class="e"></i><i class="c"></i><i class="c">*</i><i class="c"></i><i class="c">*</i><i class="c">*</i><i class="c">*</i><i class="c">*</i><i class="c">*</i><i class="c">*</i><i class="c">*</i><i class="c"></i><i class="c"></i><i class="f">*</i><i class="c"></i><i class="c"></i><i class="d"></i><i class="d"></i><i class="d"></i><i class="d"></i><i class="e"></i><i class="f">*</i><i class="e"></i><i class="e"></i><i class="d"></i><i class="b">*</i><i class="b">*</i><i class="c">*</i><i class="e"></i>
<i class="e">*</i><i class="f">*</i><i class="e">*</i><i class="g">*</i><i class="f">*</i><i class="e">*</i><i class="e">*</i><i class="e">*</i><i class="e"></i><i class="c"></i><i class="e">*</i><i class="f">*</i><i class="e">*</i><i class="b">*</i><i class="b">*</i><i class="c">*</i><i class="a">*</i><i class="b">*</i><i class="a">*</i><i class="b">*</i><i class="b">*</i><i class="b">*</i><i class="b">*</i><i class="c">*</i><i class="c"></i><i class="e">*</i><i class="b">*</i><i class="b">*</i><i class="b">*</i><i class="b">*</i><i class="c">*</i><i class="c">*</i><i class="d"></i><i class="f">*</i><i class="c"></i><i class="c"></i><i class="c">*</i><i class="b">*</i><i class="b">*</i><i class="c"></i><i class="e"></i>
</div>
</foreignObject>
<g font-size="13.5" text-anchor="end">
<text x="80" y="1121">ML-1a</text><text x="80" y="1138">ML-1b</text><text x="80" y="1155">ML-CC</text><text x="80" y="1173">ML-2</text><text x="80" y="1190">ML-MDP</text><text x="80" y="1207">ML-3</text>
</g>
<g font-size="13.5" text-anchor="end">
<text transform="translate(97,1214) rotate(-90)">MEP</text>
<text transform="translate(113.75,1214) rotate(-90)">MkP-HSC</text>
<text transform="translate(130.5,1214) rotate(-90)">MkP-Kit</text>
<text transform="translate(147.25,1214) rotate(-90)">ErP-HSC</text>
<text transform="translate(164,1214) rotate(-90)">ErP-MEP</text>
<text transform="translate(180.75,1214) rotate(-90)">ErP-1</text>
<text transform="translate(197.5,1214) rotate(-90)">ErP-2</text>
<text transform="translate(214.25,1214) rotate(-90)">ErP-3</text>
<text transform="translate(231,1214) rotate(-90)">ErP-4</text>
<text transform="translate(247.75,1214) rotate(-90)">ErP-5</text>
<text transform="translate(264.5,1214) rotate(-90)">BMCP-G2</text>
<text transform="translate(281.25,1214) rotate(-90)">BMCP</text>
<text transform="translate(298,1214) rotate(-90)">pro-Mast</text>
<text transform="translate(314.75,1214) rotate(-90)">MP</text>
<text transform="translate(331.5,1214) rotate(-90)">IG2-MP</text>
<text transform="translate(348.25,1214) rotate(-90)">EoP</text>
<text transform="translate(365,1214) rotate(-90)">proNeu-1a</text>
<text transform="translate(381.75,1214) rotate(-90)">proNeu-1b</text>
<text transform="translate(398.5,1214) rotate(-90)">proNeu-2</text>
<text transform="translate(415.25,1214) rotate(-90)">preNeu-1</text>
<text transform="translate(432,1214) rotate(-90)">preNeu-2</text>
<text transform="translate(448.75,1214) rotate(-90)">preNeu-3a</text>
<text transform="translate(465.5,1214) rotate(-90)">preNeu-3b</text>
<text transform="translate(482.25,1214) rotate(-90)">preNeu-3c</text>
<text transform="translate(499,1214) rotate(-90)">immNeu-3</text>
<text transform="translate(515.75,1214) rotate(-90)">MDP-1</text>
<text transform="translate(532.5,1214) rotate(-90)">cMoP-a</text>
<text transform="translate(549.25,1214) rotate(-90)">cMoP-b</text>
<text transform="translate(566,1214) rotate(-90)">pre-cDC1a</text>
<text transform="translate(582.75,1214) rotate(-90)">pre-cDC1b</text>
<text transform="translate(599.5,1214) rotate(-90)">pDC-CC</text>
<text transform="translate(616.25,1214) rotate(-90)">pre-cDC2</text>
<text transform="translate(633,1214) rotate(-90)">CLP1-a</text>
<text transform="translate(649.75,1214) rotate(-90)">CLP1-b</text>
<text transform="translate(666.5,1214) rotate(-90)">CLP1-c</text>
<text transform="translate(683.25,1214) rotate(-90)">CLP2-Ly6d</text>
<text transform="translate(700,1214) rotate(-90)">ALP-b</text>
<text transform="translate(716.75,1214) rotate(-90)">preBcrII G2M</text>
<text transform="translate(733.5,1214) rotate(-90)">preBcrII-S</text>
<text transform="translate(750.25,1214) rotate(-90)">preB kappa</text>
<text transform="translate(767,1214) rotate(-90)">aceNKP</text>
</g>
<rect x="799" y="1127" width="9" height="78" fill="url(#rdbu)"/>
<text x="803" y="1124" font-size="13" text-anchor="middle">1</text>
<text x="803" y="1224" font-size="13" text-anchor="middle">-1</text>
<text transform="translate(812,1166) rotate(90)" font-size="13" text-anchor="middle">rank correlation</text>

<!-- ============ PANEL C ============ -->
<g transform="translate(995,1358)">
<path d="M5 38 C-10 40 -15 30 -2 30" stroke="#c98a8a" stroke-width="2" fill="none"/>
<ellipse cx="40" cy="28" rx="32" ry="18" fill="#3a3430"/>
<ellipse cx="70" cy="18" rx="14" ry="12" fill="#3a3430"/>
<circle cx="66" cy="6" r="7" fill="#4a403c"/><circle cx="66" cy="6" r="4" fill="#b08080"/>
<circle cx="76" cy="16" r="1.6" fill="#000"/>
<ellipse cx="30" cy="46" rx="6" ry="3" fill="#c98a8a"/><ellipse cx="58" cy="46" rx="6" ry="3" fill="#c98a8a"/>
</g>
<text x="1170" y="1386" font-size="21" text-anchor="middle">Infection</text>
<text x="1170" y="1410" font-size="21" text-anchor="middle" font-style="italic">N. brasiliensis</text>
<g font-size="16" text-anchor="middle">
<text x="977" y="1447">Day 0</text><text x="1070" y="1447">Day 3</text><text x="1131" y="1447">Day 5</text><text x="1192" y="1447">Day 7</text><text x="1286" y="1447">Day 10</text>
</g>
<g stroke="#000" stroke-width="1.3" fill="#000">
<line x1="955" y1="1459" x2="1290" y2="1459"/>
<line x1="977" y1="1459" x2="977" y2="1500"/><path d="M972 1498 L977 1510 L982 1498Z"/>
<line x1="1070" y1="1459" x2="1070" y2="1500"/><path d="M1065 1498 L1070 1510 L1075 1498Z"/>
<line x1="1131" y1="1459" x2="1131" y2="1500"/><path d="M1126 1498 L1131 1510 L1136 1498Z"/>
<line x1="1192" y1="1459" x2="1192" y2="1500"/><path d="M1187 1498 L1192 1510 L1197 1498Z"/>
<line x1="1286" y1="1459" x2="1286" y2="1500"/><path d="M1281 1498 L1286 1510 L1291 1498Z"/>
</g>
<text x="1133" y="1537" font-size="19" text-anchor="middle" class="b"><tspan fill="#e8161c">Full Spectrum Flow</tspan>: CD117+ Marrow</text>
<text x="1133" y="1563" font-size="19" text-anchor="middle" class="b"><tspan fill="#9b59e0">scRNA-seq</tspan>: MultiLin Gated Cells</text>
</svg>
</body></html>
